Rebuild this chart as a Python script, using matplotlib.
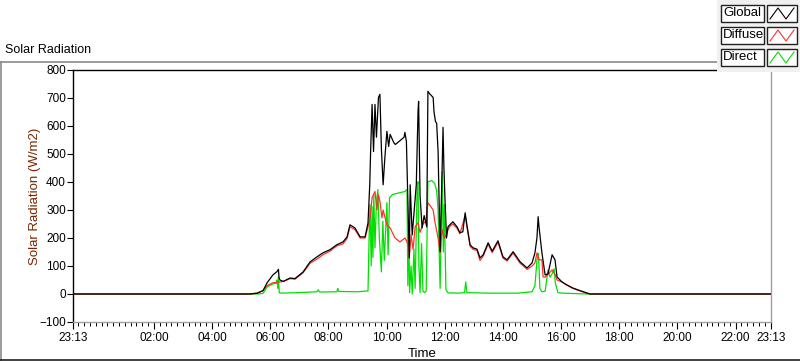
import matplotlib
matplotlib.use('Agg')
import matplotlib.pyplot as plt
from matplotlib.lines import Line2D
from matplotlib.patches import Rectangle
from matplotlib.ticker import MultipleLocator

plt.rcParams['font.family'] = ['Liberation Sans', 'DejaVu Sans']

# time in decimal hours (day starts 23:13 of previous day = -0.783)
t_global = [-0.78, 5.30, 5.55, 5.75, 5.89, 6.09, 6.23, 6.28, 6.30, 6.33, 6.45, 6.68, 6.85,
            7.13, 7.37, 7.61, 7.81, 8.05, 8.29, 8.50, 8.64, 8.74, 8.91, 9.09, 9.26, 9.36,
            9.42, 9.45, 9.50, 9.55, 9.60, 9.65, 9.72, 9.77, 9.82, 9.88, 9.94, 10.01, 10.07,
            10.12, 10.25, 10.30, 10.43, 10.60, 10.63, 10.68, 10.74, 10.78, 10.81, 10.88,
            10.95, 11.02, 11.08, 11.10, 11.15, 11.22, 11.29, 11.38, 11.42, 11.48, 11.60,
            11.63, 11.68, 11.72, 11.77, 11.84, 11.91, 11.94, 11.97, 12.01, 12.06, 12.11,
            12.20, 12.28, 12.42, 12.52, 12.62, 12.70, 12.77, 12.87, 12.97, 13.11, 13.21,
            13.32, 13.49, 13.63, 13.83, 13.92, 14.00, 14.14, 14.35, 14.59, 14.83, 15.00,
            15.10, 15.17, 15.21, 15.24, 15.34, 15.45, 15.55, 15.69, 15.79, 15.86, 16.03,
            16.20, 16.41, 16.65, 16.93, 17.00, 23.22]
global_rad = [0, 0, 3, 12, 40, 68, 80, 88, 60, 50, 45, 57, 55,
              79, 115, 133, 147, 158, 176, 186, 204, 247, 236, 204, 204, 254,
              390, 509, 677, 509, 677, 560, 702, 713, 520, 390, 487, 581, 527,
              570, 540, 534, 545, 560, 577, 545, 294, 129, 390, 211,
              300, 390, 652, 688, 350, 236, 280, 240, 724, 715, 702,
              650, 616, 610, 509, 151, 452, 595, 452, 330, 200, 240,
              250, 258, 240, 219, 222, 290, 240, 176, 165, 160, 129,
              140, 183, 153, 190, 160, 133, 122, 151, 115, 93, 111,
              147, 201, 276, 240, 147, 68, 72, 140, 122, 61, 43,
              32, 21, 12, 2, 0, 0]

t_diffuse = [-0.78, 5.30, 5.55, 5.75, 5.89, 6.09, 6.33, 6.45, 6.68, 6.85, 7.13, 7.37, 7.61,
             7.81, 8.05, 8.29, 8.50, 8.64, 8.74, 8.91, 9.09, 9.26, 9.36, 9.43, 9.50, 9.60,
             9.67, 9.72, 9.77, 9.84, 9.88, 10.01, 10.12, 10.29, 10.46, 10.63, 10.70, 10.76,
             10.78, 10.84, 10.91, 10.98, 11.08, 11.15, 11.25, 11.35, 11.42, 11.50, 11.60,
             11.66, 11.77, 11.84, 11.91, 11.98, 12.05, 12.11, 12.20, 12.28, 12.42, 12.52,
             12.70, 12.77, 12.87, 12.97, 13.11, 13.21, 13.32, 13.49, 13.63, 13.83, 13.92,
             14.00, 14.14, 14.35, 14.59, 14.83, 15.00, 15.10, 15.17, 15.24, 15.34, 15.38,
             15.45, 15.55, 15.69, 15.79, 15.86, 16.03, 16.20, 16.41, 16.65, 16.93, 17.00, 23.22]
diffuse_rad = [0, 0, 3, 12, 30, 40, 43, 45, 55, 53, 76, 110, 125,
               140, 153, 172, 179, 198, 240, 230, 200, 200, 240, 272, 344, 366,
               300, 355, 330, 272, 300, 247, 236, 200, 186, 200, 186, 165,
               129, 211, 160, 240, 254, 220, 250, 260, 326, 315, 300,
               258, 200, 147, 230, 200, 210, 230, 245, 250, 235, 215,
               280, 235, 170, 160, 155, 120, 135, 178, 148, 185, 155,
               128, 118, 146, 110, 88, 100, 111, 147, 122, 122, 61,
               60, 70, 86, 70, 50, 43, 32, 20, 11, 2, 0, 0]

t_direct = [-0.78, 5.60, 5.75, 5.89, 6.09, 6.20, 6.23, 6.26, 6.28, 6.31, 6.33, 7.00, 7.60,
            7.65, 7.70, 8.29, 8.32, 8.36, 9.00, 9.36, 9.40, 9.43, 9.47, 9.50, 9.53, 9.56,
            9.60, 9.65, 9.70, 9.75, 9.82, 9.87, 9.92, 10.01, 10.05, 10.10, 10.20, 10.46,
            10.63, 10.70, 10.73, 10.76, 10.79, 10.84, 10.88, 10.94, 10.98, 11.05, 11.08,
            11.11, 11.15, 11.20, 11.25, 11.30, 11.36, 11.42, 11.55, 11.65, 11.72, 11.77,
            11.84, 11.91, 11.95, 11.98, 12.04, 12.11, 12.50, 12.68, 12.72, 12.76, 13.50,
            14.50, 15.00, 15.10, 15.17, 15.22, 15.27, 15.34, 15.45, 15.55, 15.62, 15.69,
            15.76, 15.80, 15.89, 16.03, 16.93, 23.22]
direct_rad = [0, 0, 2, 25, 36, 38, 50, 20, 60, 5, 3, 5, 8,
              15, 7, 8, 20, 9, 8, 11, 211, 319, 100, 312, 130, 355,
              165, 330, 373, 200, 79, 260, 120, 326, 140, 344, 355, 362,
              366, 373, 30, 262, 5, 100, 0, 160, 20, 384, 401,
              100, 5, 180, 10, 5, 10, 401, 405, 395, 370, 300,
              20, 437, 150, 320, 15, 4, 3, 5, 43, 5, 3,
              3, 8, 30, 122, 145, 20, 8, 10, 86, 60, 72,
              90, 40, 5, 3, 0, 0]

series_names = ['Global', 'Diffuse', 'Direct']
series_colors = ['#000000', '#ff3030', '#00e000']

x_ticks = [-47 / 60, 2, 4, 6, 8, 10, 12, 14, 16, 18, 20, 22, 23 + 13 / 60]
x_labels = ['23:13', '02:00', '04:00', '06:00', '08:00', '10:00', '12:00', '14:00',
            '16:00', '18:00', '20:00', '22:00', '23:13']
y_ticks = [-100, 0, 100, 200, 300, 400, 500, 600, 700, 800]

fig = plt.figure(figsize=(8, 3.61), dpi=100)
W, H = 800, 361

def fx(px):
    return px / W

def fy(py):
    return 1 - py / H

# outer frame of the chart
fig.add_artist(Line2D([fx(0.5), fx(0.5)], [fy(62), fy(360)], color='#8a8a8a', lw=1.2))
fig.add_artist(Line2D([fx(0), fx(800)], [fy(62), fy(62)], color='#8a8a8a', lw=1.2))
fig.add_artist(Line2D([fx(0), fx(800)], [fy(360), fy(360)], color='#202020', lw=1.2))

ax = fig.add_axes([fx(73), fy(322), fx(771) - fx(73), fy(70) - fy(322)])
ax.plot(t_direct, direct_rad, color=series_colors[2], lw=0.9, zorder=2)
ax.plot(t_diffuse, diffuse_rad, color=series_colors[1], lw=0.9, zorder=3)
ax.plot(t_global, global_rad, color=series_colors[0], lw=0.9, zorder=4)

ax.set_xlim(x_ticks[0], x_ticks[-1])
ax.set_ylim(-100, 800)
ax.set_xticks(x_ticks)
ax.set_xticklabels(x_labels)
ax.xaxis.set_minor_locator(MultipleLocator(0.2))
ax.set_yticks(y_ticks)
ax.tick_params(axis='both', which='major', labelsize=8.5, direction='out', color='black', width=0.8)
ax.tick_params(axis='x', which='major', length=5, pad=2)
ax.tick_params(axis='x', which='minor', length=3, width=0.7, color='black')
ax.tick_params(axis='y', which='major', length=4, pad=1)
ax.spines['left'].set_color('black')
ax.spines['top'].set_color('black')
ax.spines['right'].set_color('#a0a0a0')
ax.spines['bottom'].set_color('#a0a0a0')
for s in ax.spines.values():
    s.set_linewidth(1)

ax.set_xlabel('Time', fontsize=9.5, labelpad=3)
ax.set_ylabel('Solar Radiation (W/m2)', fontsize=9.5, color='#7a2400', labelpad=-1)

fig.text(fx(5), fy(50), 'Solar Radiation', fontsize=9, va='center', ha='left')

# legend panel
fig.add_artist(Rectangle((fx(717), fy(72)), fx(83), fy(0) - fy(72), facecolor='#f0f0f0',
                         edgecolor='none', transform=fig.transFigure, zorder=5))
rows = [(5, 22), (27, 44), (49, 66)]
for (y0, y1), name, col in zip(rows, series_names, series_colors):
    fig.add_artist(Rectangle((fx(720.5), fy(y1)), fx(43), fy(y0) - fy(y1), facecolor='white',
                             edgecolor='#202020', lw=1, transform=fig.transFigure, zorder=6))
    fig.add_artist(Rectangle((fx(767), fy(y1)), fx(30), fy(y0) - fy(y1), facecolor='white',
                             edgecolor='#202020', lw=1, transform=fig.transFigure, zorder=6))
    fig.text(fx(723), fy((y0 + y1) / 2), name, fontsize=9.5, va='center', ha='left', zorder=7)
    zx = [770, 778, 786, 794]
    zy = [y1 - 3, y0 + 3, y1 - 3, y0 + 3]
    fig.add_artist(Line2D([fx(v) for v in zx], [fy(v) for v in zy], color=col, lw=0.8, zorder=7))

fig.savefig('out.png', dpi=100)
